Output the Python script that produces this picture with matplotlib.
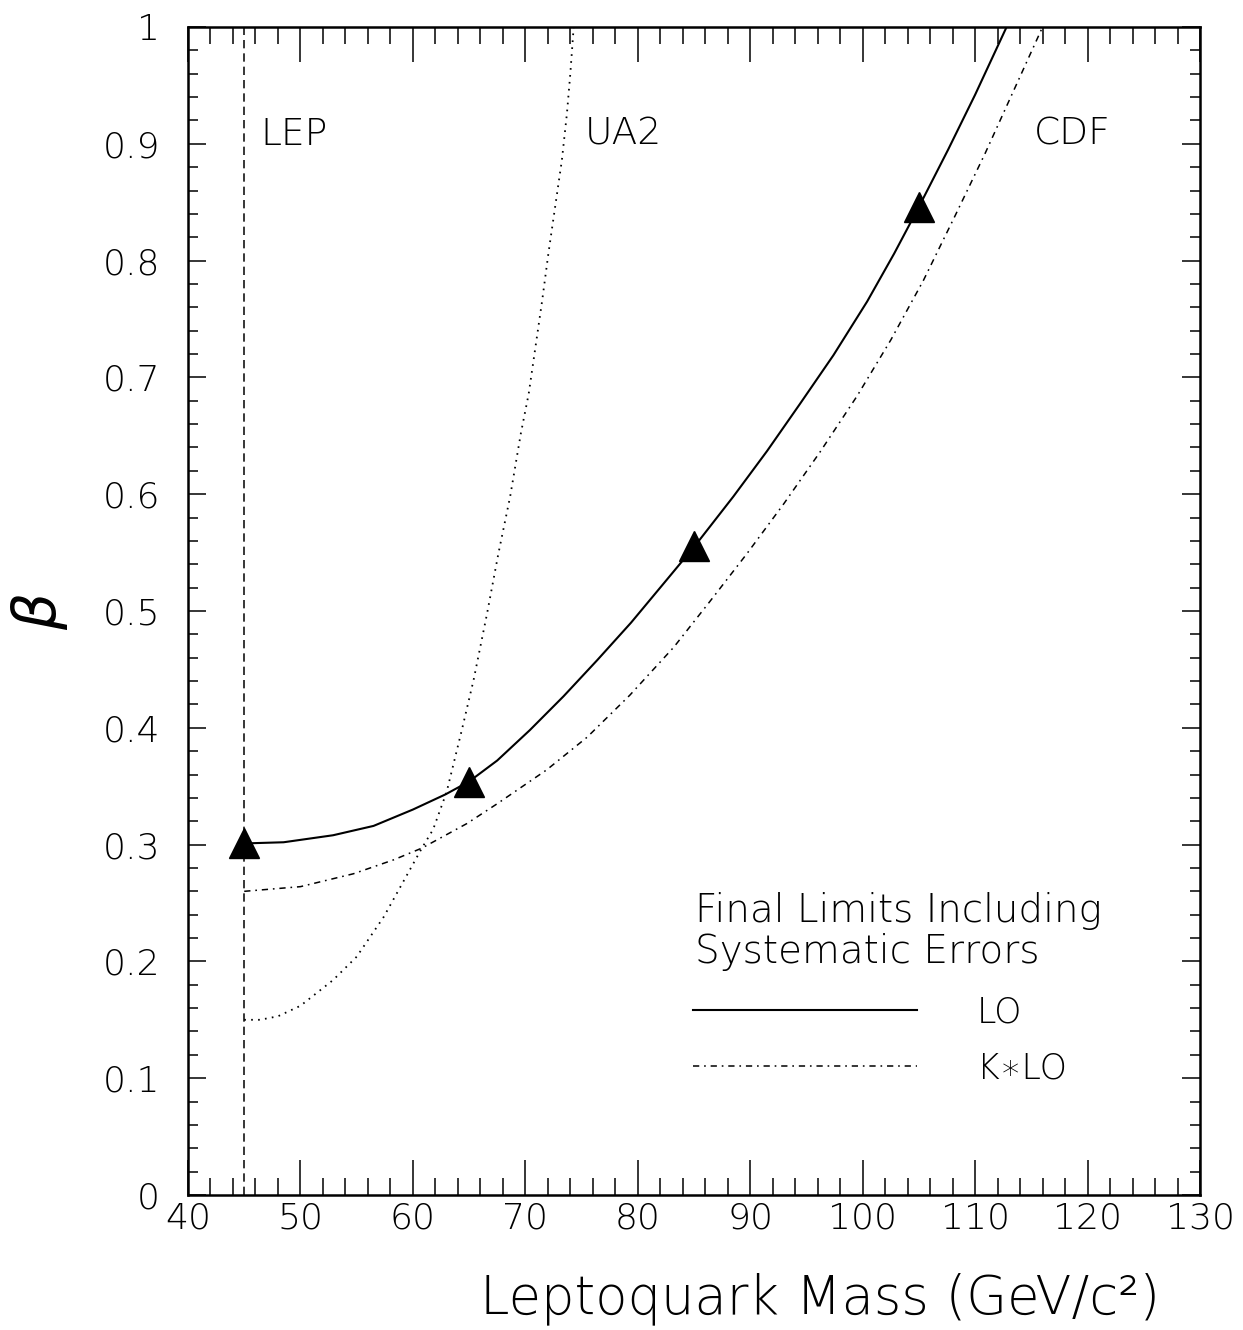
import matplotlib
matplotlib.use('Agg')
import matplotlib.pyplot as plt
from matplotlib import font_manager as fm
from matplotlib.ticker import MultipleLocator, FuncFormatter

# ---------------- data ----------------
mass_lo = [45.0, 48.5, 52.9, 56.5, 60.0, 62.9, 65.0, 67.5, 70.4, 73.4, 76.4,
           79.4, 82.6, 85.1, 88.5, 91.5, 94.4, 97.4, 100.4, 102.8, 105.0,
           107.6, 110.0, 112.8]
beta_lo = [0.301, 0.302, 0.308, 0.316, 0.330, 0.343, 0.354, 0.372, 0.398,
           0.427, 0.458, 0.490, 0.527, 0.556, 0.598, 0.637, 0.677, 0.719,
           0.765, 0.806, 0.846, 0.895, 0.942, 1.0]

mass_klo = [45.0, 50.0, 54.7, 58.3, 60.8, 64.8, 67.5, 71.9, 75.5, 79.3, 83.2,
            86.4, 89.7, 93.0, 96.2, 99.5, 102.5, 105.4, 108.2, 110.9, 116.0]
beta_klo = [0.260, 0.264, 0.275, 0.287, 0.297, 0.318, 0.335, 0.364, 0.392,
            0.428, 0.469, 0.508, 0.549, 0.592, 0.636, 0.684, 0.732, 0.783,
            0.838, 0.892, 1.0]

mass_ua2 = [45.0, 46.4, 48.0, 50.0, 52.9, 55.0, 57.4, 58.9, 60.8, 61.8, 63.0,
            64.35, 65.4, 66.6, 67.6, 68.65, 69.6, 70.3, 70.9, 71.5, 72.05,
            72.65, 73.25, 73.7, 74.0, 74.3]
beta_ua2 = [0.150, 0.150, 0.153, 0.162, 0.184, 0.204, 0.238, 0.264, 0.297,
            0.313, 0.345, 0.398, 0.441, 0.498, 0.549, 0.598, 0.652, 0.686,
            0.726, 0.766, 0.806, 0.846, 0.886, 0.926, 0.960, 1.0]

mass_lep = [45.0, 45.0]
beta_lep = [0.0, 1.0]

mass_pts = [45, 65, 85, 105]
beta_pts = [0.301, 0.354, 0.556, 0.846]

region_labels = ['LEP', 'UA2', 'CDF']
region_label_mass = [46.4, 75.3, 115.2]
region_label_beta = [0.899, 0.899, 0.899]

legend_labels = ['LO', 'K\u2217LO']
legend_title_lines = ['Final Limits Including', 'Systematic Errors']
xlabel_text = 'Leptoquark Mass (GeV/c\u00b2)'


# ---------------- font selection ----------------
def pick_font():
    for fam in ['DejaVu Sans', 'Open Sans', 'Lato', 'Roboto', 'Noto Sans', 'Inter']:
        for f in fm.fontManager.ttflist:
            try:
                w = int(f.weight)
            except (TypeError, ValueError):
                continue
            if f.name == fam and f.style == 'normal' and w <= 300:
                return fam, w
    return 'DejaVu Sans', 'normal'


fam, wt = pick_font()
plt.rcParams.update({
    'font.family': [fam, 'DejaVu Sans'],
    'font.weight': wt,
    'mathtext.fontset': 'dejavusans',
    'lines.scale_dashes': False,
})

fig = plt.figure(figsize=(12.43, 13.30), dpi=100)
ax = fig.add_axes([188 / 1243, 135 / 1330, 1012 / 1243, 1168 / 1330])

ax.plot(mass_lep, beta_lep, color='k', lw=1.1, ls=(0, (6, 3.6)))
ax.plot(mass_ua2, beta_ua2, color='k', lw=1.3, ls=(0, (1.2, 3.8)))
h_klo, = ax.plot(mass_klo, beta_klo, color='k', lw=1.1,
                 ls=(0, (4.5, 3.5, 1.2, 3.5)))
h_lo, = ax.plot(mass_lo, beta_lo, color='k', lw=1.5, ls='-')
ax.plot(mass_pts, beta_pts, ls='none', marker='^', ms=22, color='k', zorder=5)

for t, mx, by in zip(region_labels, region_label_mass, region_label_beta):
    ax.text(mx, by, t, fontsize=27, ha='left', va='baseline')

ax.set_xlim(40, 130)
ax.set_ylim(0, 1)
ax.xaxis.set_major_locator(MultipleLocator(10))
ax.xaxis.set_minor_locator(MultipleLocator(2))
ax.yaxis.set_major_locator(MultipleLocator(0.1))
ax.yaxis.set_minor_locator(MultipleLocator(0.02))
ax.xaxis.set_major_formatter(FuncFormatter(lambda v, p: '%g' % round(v, 3)))
ax.yaxis.set_major_formatter(FuncFormatter(lambda v, p: '%g' % round(v, 3)))

ax.tick_params(axis='x', which='major', direction='in', length=25, width=1.1,
               top=True, labelsize=26, pad=5)
ax.tick_params(axis='x', which='minor', direction='in', length=12.5, width=1.1,
               top=True)
ax.tick_params(axis='y', which='major', direction='in', length=13, width=1.1,
               right=True, labelsize=26, pad=20)
ax.tick_params(axis='y', which='minor', direction='in', length=7, width=1.1,
               right=True)
for s in ax.spines.values():
    s.set_linewidth(1.8)

# legend title (two lines) and legend entries
ax.text(0.5010, 0.2337, legend_title_lines[0], transform=ax.transAxes,
        fontsize=28, ha='left', va='baseline')
ax.text(0.5010, 0.1986, legend_title_lines[1], transform=ax.transAxes,
        fontsize=28, ha='left', va='baseline')

leg = ax.legend(handles=[h_lo, h_klo], labels=legend_labels,
                loc='center left', bbox_to_anchor=(0.499, 0.1323),
                frameon=False, fontsize=25, handlelength=6.45,
                handletextpad=1.72, borderpad=0, borderaxespad=0,
                labelspacing=0.64)

fig.text(820 / 1243, 17 / 1330, xlabel_text, fontsize=38, ha='center',
         va='baseline')
fig.text(39 / 1243, (1330 - 611) / 1330, r'$\beta$', fontsize=42, rotation=90,
         ha='center', va='center')

fig.savefig('out.png', dpi=100)
